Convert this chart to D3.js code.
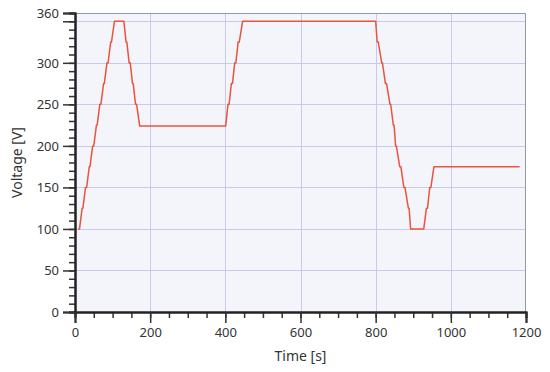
<!DOCTYPE html>
<html>
<head>
<meta charset="utf-8">
<script src="https://cdn.jsdelivr.net/npm/d3@7"></script>
<style>
  body { margin: 0; background: #fff; }
  text { font-family: "Noto Sans", "Open Sans", sans-serif; fill: #333; }
</style>
</head>
<body>
<div id="chart"></div>
<script>
// time [s] and voltage [V]
var times = [8, 12, 19, 21, 28, 31, 38, 40, 47, 50, 57, 59, 66, 69, 76, 78, 85, 88, 95, 97, 105,
  130, 136, 138, 144, 147, 153, 155, 161, 164, 172,
  401, 407, 410, 416, 419, 425, 428, 434, 437, 446,
  800, 804, 807, 816, 818, 826, 829, 838, 840, 847, 849, 853, 855, 864, 867, 875, 878, 887, 889, 893,
  928, 935, 938, 944, 947, 955, 1183];
var volts = [100, 100, 125, 125, 150, 150, 175, 175, 200, 200, 225, 225, 250, 250, 275, 275, 300, 300, 325, 325, 350,
  350, 325, 325, 300, 300, 275, 275, 250, 250, 224,
  224, 250, 250, 275, 275, 300, 300, 325, 325, 350,
  350, 325, 325, 300, 300, 275, 275, 250, 250, 225, 225, 200, 200, 175, 175, 150, 150, 125, 125, 100,
  100, 125, 125, 150, 150, 175, 175];

var yTickLabels = [0, 50, 100, 150, 200, 250, 300, 360];
var yMajor = [0, 50, 100, 150, 200, 250, 300, 350, 360];
var yGrid = [50, 100, 150, 200, 250, 300, 350];
var xTickLabels = [0, 200, 400, 600, 800, 1000, 1200];
var xGrid = [200, 400, 600, 800, 1000];

var width = 550, height = 372;
var margin = { top: 13, right: 24, bottom: 60, left: 75 };
var innerW = width - margin.left - margin.right;
var innerH = height - margin.top - margin.bottom;

var lineColor = '#e8553f';
var gridColor = '#c9c9ee';
var bgColor = '#f4f5fa';

var svg = d3.select('#chart')
  .append('svg')
  .attr('width', width)
  .attr('height', height);

var g = svg.append('g')
  .attr('transform', 'translate(' + margin.left + ',' + margin.top + ')');

var x = d3.scaleLinear().domain([0, 1200]).range([0, innerW]);
var y = d3.scaleLinear().domain([0, 360]).range([innerH, 0]);

g.append('rect')
  .attr('width', innerW)
  .attr('height', innerH)
  .attr('fill', bgColor);

// grid
g.selectAll('.hgrid')
  .data(yGrid)
  .enter()
  .append('line')
  .attr('x1', 0)
  .attr('x2', innerW)
  .attr('y1', function (d) { return Math.round(y(d)) + 0.5; })
  .attr('y2', function (d) { return Math.round(y(d)) + 0.5; })
  .attr('stroke', gridColor);

g.selectAll('.vgrid')
  .data(xGrid)
  .enter()
  .append('line')
  .attr('y1', 0)
  .attr('y2', innerH)
  .attr('x1', function (d) { return Math.round(x(d)) + 0.5; })
  .attr('x2', function (d) { return Math.round(x(d)) + 0.5; })
  .attr('stroke', gridColor);

// top and right border
g.append('path')
  .attr('d', 'M0,0.5H' + (innerW - 0.5) + 'V' + innerH)
  .attr('fill', 'none')
  .attr('stroke', '#8d9bb0');

// minor ticks
var yMinor = d3.range(0, 361, 10);
var xMinor = d3.range(0, 1201, 50);

var yAxisMinor = d3.axisLeft(y).tickValues(yMinor).tickSize(6).tickFormat('');
var yAxis = d3.axisLeft(y).tickValues(yMajor).tickSize(12).tickPadding(4)
  .tickFormat(function (d) { return yTickLabels.indexOf(d) >= 0 ? d : ''; });
var xAxisMinor = d3.axisBottom(x).tickValues(xMinor).tickSize(6).tickFormat('');
var xAxis = d3.axisBottom(x).tickValues(xTickLabels).tickSize(11).tickPadding(5)
  .tickFormat(d3.format('d'));

function styleAxis(sel) {
  sel.select('.domain').attr('stroke', '#222').attr('stroke-width', 2);
  sel.selectAll('.tick line').attr('stroke', '#333').attr('stroke-width', 1.5);
  sel.selectAll('text').attr('font-size', 13).attr('fill', '#333')
    .attr('font-family', '"Noto Sans", "Open Sans", sans-serif');
}

g.append('g').call(yAxisMinor).call(styleAxis);
g.append('g').call(yAxis).call(styleAxis);
g.append('g').attr('transform', 'translate(0,' + innerH + ')').call(xAxisMinor).call(styleAxis);
g.append('g').attr('transform', 'translate(0,' + innerH + ')').call(xAxis).call(styleAxis);

// data line
var points = times.map(function (t, i) { return [t, volts[i]]; });
var line = d3.line()
  .x(function (d) { return x(d[0]); })
  .y(function (d) { return y(d[1]); });

g.append('path')
  .datum(points)
  .attr('d', line)
  .attr('fill', 'none')
  .attr('stroke', lineColor)
  .attr('stroke-width', 1.5)
  .attr('stroke-linejoin', 'round');

// axis titles
svg.append('text')
  .attr('x', margin.left + innerW / 2)
  .attr('y', 361)
  .attr('text-anchor', 'middle')
  .attr('font-size', 14)
  .text('Time [s]');

svg.append('text')
  .attr('transform', 'translate(22,' + (margin.top + innerH / 2) + ') rotate(-90)')
  .attr('text-anchor', 'middle')
  .attr('font-size', 14)
  .text('Voltage [V]');
</script>
</body>
</html>
